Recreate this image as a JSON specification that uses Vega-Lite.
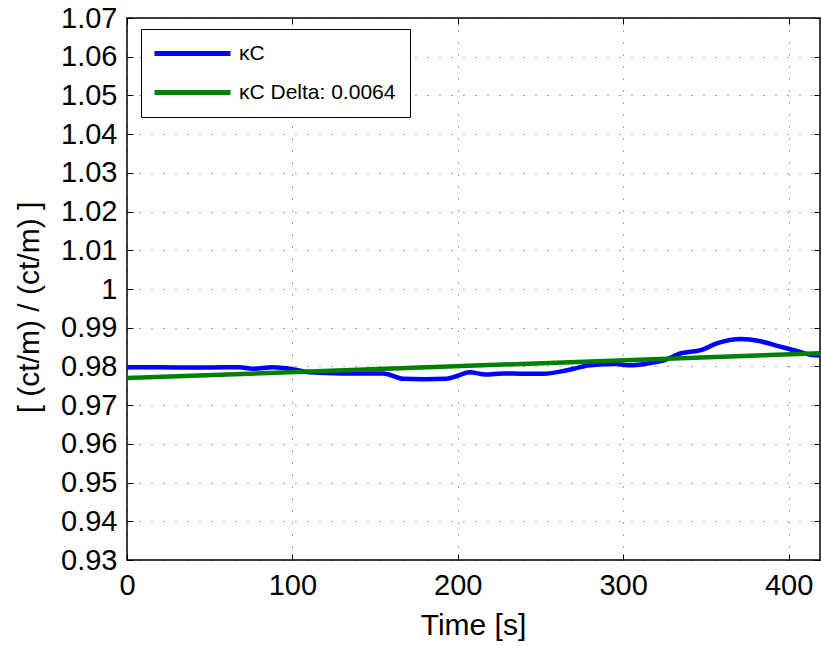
{
  "$schema": "https://vega.github.io/schema/vega-lite/v6.json",
  "autosize": "none",
  "width": 693,
  "height": 542,
  "padding": {"left": 127, "top": 18, "right": 1, "bottom": 86},
  "background": "white",
  "config": {
    "font": "Liberation Sans",
    "view": {"stroke": "black", "strokeWidth": 1.5}
  },
  "data": {
    "values": [
      {"t": 0, "v": 0.9798, "s": "κC"},
      {"t": 20, "v": 0.9798, "s": "κC"},
      {"t": 40, "v": 0.9797, "s": "κC"},
      {"t": 60, "v": 0.9798, "s": "κC"},
      {"t": 68, "v": 0.9798, "s": "κC"},
      {"t": 76, "v": 0.9794, "s": "κC"},
      {"t": 88, "v": 0.9798, "s": "κC"},
      {"t": 100, "v": 0.9793, "s": "κC"},
      {"t": 110, "v": 0.9785, "s": "κC"},
      {"t": 130, "v": 0.9782, "s": "κC"},
      {"t": 155, "v": 0.9782, "s": "κC"},
      {"t": 167, "v": 0.9768, "s": "κC"},
      {"t": 180, "v": 0.9767, "s": "κC"},
      {"t": 193, "v": 0.9768, "s": "κC"},
      {"t": 200, "v": 0.9776, "s": "κC"},
      {"t": 207, "v": 0.9785, "s": "κC"},
      {"t": 217, "v": 0.9779, "s": "κC"},
      {"t": 227, "v": 0.9782, "s": "κC"},
      {"t": 240, "v": 0.9781, "s": "κC"},
      {"t": 252, "v": 0.9781, "s": "κC"},
      {"t": 266, "v": 0.9790, "s": "κC"},
      {"t": 280, "v": 0.9803, "s": "κC"},
      {"t": 296, "v": 0.9806, "s": "κC"},
      {"t": 304, "v": 0.9803, "s": "κC"},
      {"t": 315, "v": 0.9808, "s": "κC"},
      {"t": 324, "v": 0.9815, "s": "κC"},
      {"t": 335, "v": 0.9834, "s": "κC"},
      {"t": 347, "v": 0.9842, "s": "κC"},
      {"t": 357, "v": 0.9860, "s": "κC"},
      {"t": 371, "v": 0.9871, "s": "κC"},
      {"t": 383, "v": 0.9865, "s": "κC"},
      {"t": 395, "v": 0.9851, "s": "κC"},
      {"t": 405, "v": 0.9840, "s": "κC"},
      {"t": 413, "v": 0.9830, "s": "κC"},
      {"t": 419, "v": 0.9828, "s": "κC"},
      {"t": 0, "v": 0.9770, "s": "κC Delta: 0.0064"},
      {"t": 419, "v": 0.9834, "s": "κC Delta: 0.0064"}
    ]
  },
  "layer": [
    {
      "mark": {"type": "line", "strokeWidth": 4.5, "interpolate": "monotone", "clip": true},
      "encoding": {
        "x": {
          "field": "t", "type": "quantitative",
          "scale": {"domain": [0, 419], "nice": false, "zero": false},
          "axis": {
            "orient": "bottom", "values": [0, 100, 200, 300, 400],
            "title": "Time [s]", "titleFontSize": 30, "titleFontWeight": "normal", "titleColor": "black",
            "titleX": 346, "titleY": 65, "titleBaseline": "middle", "titleAlign": "center",
            "labelFontSize": 29, "labelColor": "black", "labelPadding": 17, "labelFlush": false,
            "tickSize": -6, "tickColor": "black", "tickWidth": 1,
            "domain": false,
            "grid": true, "gridColor": "black", "gridOpacity": 0.7, "gridDash": [1, 11], "gridWidth": 1
          }
        },
        "y": {
          "field": "v", "type": "quantitative",
          "scale": {"domain": [0.93, 1.07], "nice": false, "zero": false},
          "axis": {
            "orient": "left",
            "values": [0.93, 0.94, 0.95, 0.96, 0.97, 0.98, 0.99, 1, 1.01, 1.02, 1.03, 1.04, 1.05, 1.06, 1.07],
            "format": "~g",
            "title": "[ (ct/m) / (ct/m) ]", "titleFontSize": 30, "titleFontWeight": "normal", "titleColor": "black",
            "titleX": -98, "titleY": 289, "titleBaseline": "middle", "titleAlign": "center", "titleAngle": -90,
            "labelFontSize": 29, "labelColor": "black", "labelPadding": 16, "labelFlush": false,
            "tickSize": -6, "tickColor": "black", "tickWidth": 1,
            "domain": false,
            "grid": true, "gridColor": "black", "gridOpacity": 0.7, "gridDash": [1, 11], "gridWidth": 1
          }
        },
        "color": {
          "field": "s", "type": "nominal",
          "scale": {"domain": ["κC", "κC Delta: 0.0064"], "range": ["#0000ff", "#008000"]},
          "legend": {
            "title": null, "orient": "none", "legendX": 14, "legendY": 11,
            "fillColor": "white", "strokeColor": "black", "padding": 14,
            "symbolType": "M-1,0H37", "symbolStrokeWidth": 5, "symbolSize": 16, "symbolOffset": -9,
            "labelFontSize": 21, "labelColor": "black", "labelOffset": 72, "rowPadding": 17
          }
        }
      }
    },
    {
      "mark": {"type": "line", "opacity": 0},
      "encoding": {
        "x": {
          "field": "t", "type": "quantitative",
          "axis": {"orient": "top", "values": [0, 100, 200, 300, 400], "labels": false, "title": null, "grid": false, "domain": false, "tickSize": -6, "tickColor": "black"}
        },
        "y": {
          "field": "v", "type": "quantitative",
          "axis": {"orient": "right", "values": [0.93, 0.94, 0.95, 0.96, 0.97, 0.98, 0.99, 1, 1.01, 1.02, 1.03, 1.04, 1.05, 1.06, 1.07], "labels": false, "title": null, "grid": false, "domain": false, "tickSize": -6, "tickColor": "black"}
        }
      }
    }
  ],
  "resolve": {"axis": {"x": "independent", "y": "independent"}}
}
